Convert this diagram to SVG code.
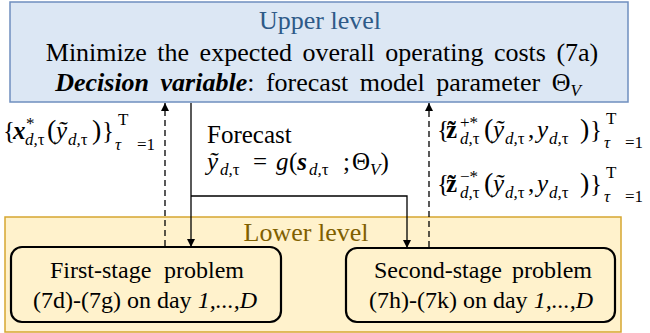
<svg xmlns="http://www.w3.org/2000/svg" width="650" height="333" viewBox="0 0 650 333">
<defs>
<style>
.sol{stroke:#000;stroke-width:1.3;fill:none}
.dash{stroke:#000;stroke-width:1.3;fill:none;stroke-dasharray:6,4}
.stage{fill:#fff2cc;stroke:#000;stroke-width:2.2}
</style>
<marker id="ah" viewBox="0 0 10 10" refX="10" refY="5" markerWidth="8" markerHeight="9" markerUnits="userSpaceOnUse" orient="auto">
<path d="M0,0 L10,5 L0,10 z" fill="#000"/>
</marker>
</defs>
<g id="lower-level">
<rect x="5" y="217" width="616" height="115" fill="#fff2cc" stroke="#d6a730" stroke-width="1.5"/>
<text font-family="Liberation Serif" x="306" y="241" font-size="26" text-anchor="middle" fill="#7f6000">Lower level</text>
</g>
<g id="upper-level">
<rect x="10" y="2" width="618" height="100" fill="#dce7f4" stroke="#6f8fbf" stroke-width="1.5"/>
<text font-family="Liberation Serif" x="320" y="29" font-size="26" text-anchor="middle" fill="#2e5a88">Upper level</text>
<text font-family="Liberation Serif" x="322" y="61" font-size="26" text-anchor="middle" word-spacing="4">Minimize the expected overall operating costs (7a)</text>
<text font-family="Liberation Serif" x="318" y="91" font-size="26" text-anchor="middle" word-spacing="5"><tspan font-weight="bold" font-style="italic">Decision variable</tspan>: forecast model parameter Θ<tspan font-style="italic" font-size="17" dy="5">V</tspan></text>
</g>
<g id="first-stage">
<rect class="stage" x="11" y="247" width="270" height="75" rx="11"/>
<text font-family="Liberation Serif" x="50" y="278" font-size="24">First-stage<tspan x="164">problem</tspan></text>
<text font-family="Liberation Serif" x="33" y="308" font-size="24">(7d)-(7g) on day <tspan font-style="italic">1,...,D</tspan></text>
</g>
<g id="second-stage">
<rect class="stage" x="346" y="248" width="269" height="74" rx="11"/>
<text font-family="Liberation Serif" x="374" y="278" font-size="24">Second-stage<tspan x="512">problem</tspan></text>
<text font-family="Liberation Serif" x="369" y="308" font-size="24">(7h)-(7k) on day <tspan font-style="italic">1,...,D</tspan></text>
</g>
<g id="connectors">
<path class="dash" d="M165,246 V103" marker-end="url(#ah)"/>
<path class="sol" d="M191,103 V247" marker-end="url(#ah)"/>
<path class="sol" d="M191,196 H407 V248" marker-end="url(#ah)"/>
<path class="dash" d="M429,247 V103" marker-end="url(#ah)"/>
</g>
<g id="labels">
<text font-family="Liberation Serif" x="207" y="143" font-size="25">Forecast</text>
<text font-family="Liberation Serif" font-style="italic" font-size="25" x="207" y="170">ỹ<tspan font-size="17" x="220" dy="5">d,</tspan><tspan font-size="17" font-style="normal">τ</tspan><tspan font-style="normal" x="253" dy="-5">=</tspan><tspan x="276">g</tspan><tspan font-style="normal" x="289">(</tspan><tspan font-weight="bold">s</tspan><tspan font-size="17" x="309" dy="5">d,</tspan><tspan font-size="17" font-style="normal">τ</tspan><tspan font-style="normal" x="343" dy="-5">;</tspan><tspan font-style="normal" x="352">Θ</tspan><tspan font-size="17" dy="5">V</tspan><tspan font-style="normal" dy="-5">)</tspan></text>
<text font-family="Liberation Serif" font-style="italic" font-size="25" x="3" y="139"><tspan font-style="normal">{</tspan><tspan font-weight="bold" x="13">x</tspan><tspan font-size="17" font-style="normal" x="26" dy="-10">*</tspan><tspan font-size="17" x="25" dy="16">d,</tspan><tspan font-size="17" font-style="normal">τ</tspan><tspan font-style="normal" font-size="28" x="47" dy="-6">(</tspan><tspan x="56">ỹ</tspan><tspan font-size="17" x="68" dy="6">d,</tspan><tspan font-size="17" font-style="normal">τ</tspan><tspan font-style="normal" font-size="28" x="92" dy="-6">)</tspan><tspan font-style="normal" x="102">}</tspan><tspan font-size="17" font-style="normal" x="118" dy="-14">T</tspan><tspan font-size="17" x="115" dy="25">τ</tspan><tspan font-size="17" font-style="normal" x="137">=1</tspan></text>
<text font-family="Liberation Serif" font-style="italic" font-size="25" x="437" y="138"><tspan font-style="normal">{</tspan><tspan font-weight="bold" font-style="normal" x="446">z̃</tspan><tspan font-size="17" font-style="normal" x="460" dy="-10">+*</tspan><tspan font-size="17" x="460" dy="16">d,</tspan><tspan font-size="17" font-style="normal">τ</tspan><tspan font-style="normal" font-size="28" x="484" dy="-6">(</tspan><tspan x="493">ỹ</tspan><tspan font-size="17" x="505" dy="6">d,</tspan><tspan font-size="17" font-style="normal">τ</tspan><tspan font-style="normal" x="528" dy="-6">,</tspan><tspan x="537">y</tspan><tspan font-size="17" x="549" dy="6">d,</tspan><tspan font-size="17" font-style="normal">τ</tspan><tspan font-style="normal" font-size="28" x="580" dy="-6">)</tspan><tspan font-style="normal" x="590">}</tspan><tspan font-size="17" font-style="normal" x="606" dy="-14">T</tspan><tspan font-size="17" x="604" dy="24">τ</tspan><tspan font-size="17" font-style="normal" x="625">=1</tspan></text>
<text font-family="Liberation Serif" font-style="italic" font-size="25" x="437" y="192"><tspan font-style="normal">{</tspan><tspan font-weight="bold" font-style="normal" x="446">z̃</tspan><tspan font-size="17" font-style="normal" x="460" dy="-10">−*</tspan><tspan font-size="17" x="460" dy="16">d,</tspan><tspan font-size="17" font-style="normal">τ</tspan><tspan font-style="normal" font-size="28" x="484" dy="-6">(</tspan><tspan x="493">ỹ</tspan><tspan font-size="17" x="505" dy="6">d,</tspan><tspan font-size="17" font-style="normal">τ</tspan><tspan font-style="normal" x="528" dy="-6">,</tspan><tspan x="537">y</tspan><tspan font-size="17" x="549" dy="6">d,</tspan><tspan font-size="17" font-style="normal">τ</tspan><tspan font-style="normal" font-size="28" x="580" dy="-6">)</tspan><tspan font-style="normal" x="590">}</tspan><tspan font-size="17" font-style="normal" x="606" dy="-14">T</tspan><tspan font-size="17" x="604" dy="24">τ</tspan><tspan font-size="17" font-style="normal" x="625">=1</tspan></text>
</g>
</svg>
